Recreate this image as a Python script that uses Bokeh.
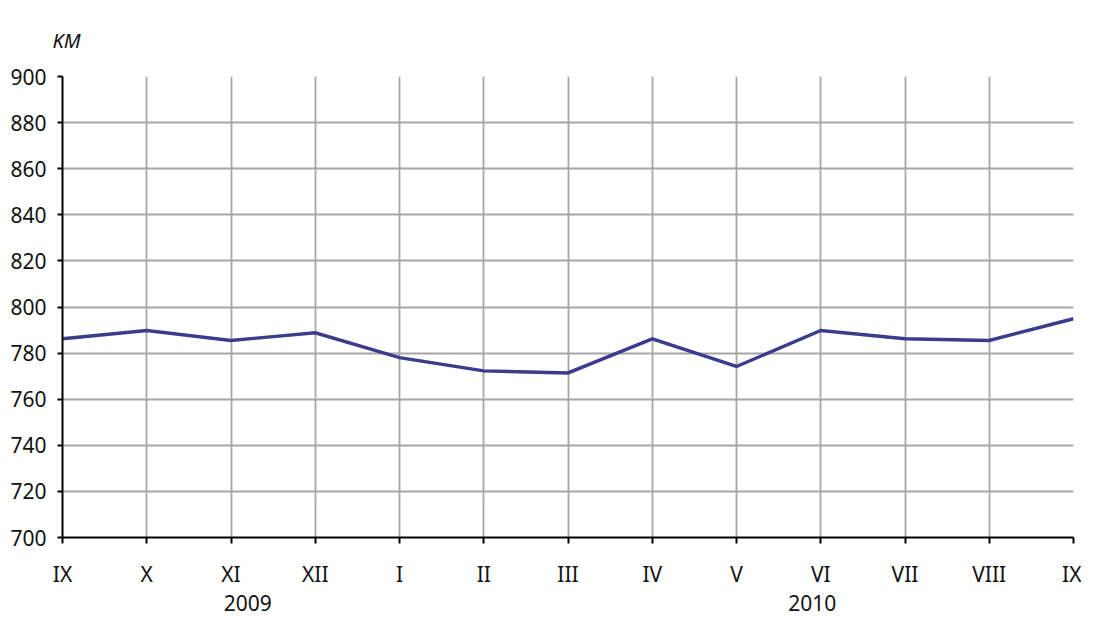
from bokeh.plotting import figure
from bokeh.models import Range1d, FixedTicker, LinearAxis, Grid
from bokeh.embed import file_html
from bokeh.resources import INLINE

# data
months = ["IX", "X", "XI", "XII", "I", "II", "III", "IV", "V", "VI", "VII", "VIII", "IX"]
values = [786.2, 789.8, 785.5, 788.8, 778.0, 772.3, 771.4, 786.2, 774.2, 789.8, 786.2, 785.5, 794.9]
years = ["2009", "2010"]
unit_label = "KM"

# layout
year_pos = [2.2, 8.9]
FONT = "Noto Sans"
LINE_COLOR = "#3C3C8C"
GRID_COLOR = "#A6A6A6"
TEXT_COLOR = "#111111"

x = list(range(len(months)))

p = figure(width=1081, height=617, output_backend="svg", toolbar_location=None,
           x_range=Range1d(0, len(months) - 1), y_range=Range1d(700, 900),
           min_border_left=62, min_border_right=8, min_border_top=76, min_border_bottom=80,
           x_axis_type=None, title=unit_label)
p.outline_line_color = None
p.background_fill_color = "white"
p.border_fill_color = "white"

p.title.text_font = FONT
p.title.text_font_style = "italic"
p.title.text_font_size = "20px"
p.title.text_color = TEXT_COLOR
p.title.align = "left"
p.title.offset = -10
p.title.standoff = 46

p.line(x, values, line_color=LINE_COLOR, line_width=3.4, line_join="miter")

# x axis (months)
xa = LinearAxis(ticker=FixedTicker(ticks=x),
                major_label_overrides={i: m for i, m in enumerate(months)})
xa.axis_line_color = "black"
xa.axis_line_width = 2
xa.major_tick_line_color = "black"
xa.major_tick_line_width = 2
xa.major_tick_out = 6
xa.major_tick_in = 0
xa.minor_tick_line_color = None
xa.major_label_standoff = 16
xa.major_label_text_font = FONT
xa.major_label_text_font_size = "21px"
xa.major_label_text_color = TEXT_COLOR
p.add_layout(xa, "below")

# years axis
ya2 = LinearAxis(ticker=FixedTicker(ticks=year_pos),
                 major_label_overrides={pos: y for pos, y in zip(year_pos, years)})
ya2.axis_line_color = None
ya2.major_tick_line_color = None
ya2.minor_tick_line_color = None
ya2.major_tick_out = 0
ya2.major_tick_in = 0
ya2.major_label_standoff = 4
ya2.major_label_text_font = FONT
ya2.major_label_text_font_size = "21px"
ya2.major_label_text_color = TEXT_COLOR
p.add_layout(ya2, "below")

# y axis
yax = p.yaxis[0]
yax.ticker = FixedTicker(ticks=list(range(700, 901, 20)))
yax.axis_line_color = "black"
yax.axis_line_width = 2
yax.major_tick_line_color = "black"
yax.major_tick_line_width = 2
yax.major_tick_out = 5
yax.major_tick_in = 0
yax.minor_tick_line_color = None
yax.major_label_standoff = 11
yax.major_label_text_font = FONT
yax.major_label_text_font_size = "21px"
yax.major_label_text_color = TEXT_COLOR

# grids
p.ygrid.ticker = FixedTicker(ticks=list(range(700, 901, 20)))
p.ygrid.grid_line_color = GRID_COLOR
p.ygrid.grid_line_width = 1.8
p.add_layout(Grid(dimension=0, ticker=FixedTicker(ticks=x),
                  grid_line_color=GRID_COLOR, grid_line_width=1.8))

open("out.html", "w").write(file_html(p, INLINE))
